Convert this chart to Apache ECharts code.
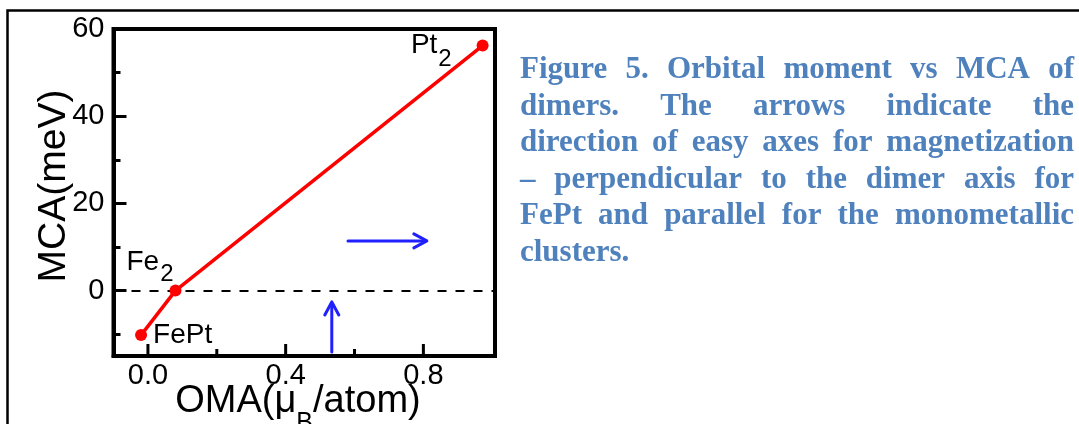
<!DOCTYPE html>
<html>
<head>
<meta charset="utf-8">
<script src="https://cdn.jsdelivr.net/npm/echarts@6/dist/echarts.min.js"></script>
<style>
html,body{margin:0;padding:0;background:#fff;}
#c{width:1079px;height:424px;}
</style>
</head>
<body>
<div id="c"></div>
<script>
// ---- data ----
const pointNames = ['FePt', 'Fe2', 'Pt2'];
const omaValues = [-0.02, 0.08, 0.972];
const mcaValues = [-10.2, 0, 56.2];
const xTickLabels = [0, 0.4, 0.8];
const xMinorTicks = [0.2, 0.6];
const yTickLabels = [0, 20, 40, 60];
const yMinorTicks = [-10, 10, 30, 50];
const zeroLineValue = 0;
// easy-axis arrows: [xStart, yStart, xEnd, yEnd]
const arrowHorizontal = [0.581, 11.4, 0.810, 11.4];
const arrowVertical = [0.534, -14.1, 0.534, -2.6];
const xTitle = ['OMA(μ', 'B', '/atom)'];
const yTitle = 'MCA(meV)';
const captionLines = [
  'Figure 5. Orbital moment vs MCA of',
  'dimers. The arrows indicate the',
  'direction of easy axes for magnetization',
  '– perpendicular to the dimer axis for',
  'FePt and parallel for the monometallic',
  'clusters.'
];

// ---- layout / style ----
const W = 1079, H = 424;
const gridL = 113.5, gridR = 495, gridT = 29, gridB = 356;
const xMin = -0.1, xMax = 1.008, yMin = -15, yMax = 60;
const sansName = '"Liberation Sans", Arial, sans-serif';
// label placement relative to marker: [dx of left edge, dy of main baseline, dy of subscript baseline]
const labelPlacement = [[12, 10.3, 0], [-49, -19, -8], [-71.7, 9.5, 22.5]];
const mainFs = 28, subFs = 24;
const majorLen = 12, minorLen = 7;

const chart = echarts.init(document.getElementById('c'), null, {renderer: 'canvas', width: W, height: H});
const ctx = document.createElement('canvas').getContext('2d');

function renderArrow(params, api) {
  const p1 = api.coord([api.value(0), api.value(1)]);
  const p2 = api.coord([api.value(2), api.value(3)]);
  const dx = p2[0] - p1[0], dy = p2[1] - p1[1];
  const len = Math.sqrt(dx * dx + dy * dy);
  const ux = dx / len, uy = dy / len;
  const hl = 13, hw = 7;
  const b = [p2[0] - ux * hl, p2[1] - uy * hl];
  const a1 = [b[0] - uy * hw, b[1] + ux * hw];
  const a2 = [b[0] + uy * hw, b[1] - ux * hw];
  const st = {stroke: '#2020ff', lineWidth: 3, fill: null, lineCap: 'round', lineJoin: 'round'};
  return {type: 'group', children: [
    {type: 'polyline', shape: {points: [p1, [p2[0] - ux * 1.5, p2[1] - uy * 1.5]]}, style: st},
    {type: 'polyline', shape: {points: [a1, p2, a2]}, style: st}
  ]};
}

const tickStyle = {color: '#000', width: 3};
const mainLine = {show: true, onZero: false, lineStyle: {color: '#000', width: 4}};
const hiddenLine = {show: false, onZero: false};

const option = {
  animation: false,
  backgroundColor: '#fff',
  grid: {left: gridL, right: W - gridR, top: gridT, bottom: H - gridB, show: true,
         borderColor: '#000', borderWidth: 4, backgroundColor: 'transparent'},
  xAxis: [{
    type: 'value', min: xMin, max: xMax, position: 'bottom',
    splitLine: {show: false}, axisLine: mainLine, axisTick: {show: false},
    axisLabel: {customValues: xTickLabels, formatter: v => v.toFixed(1), fontSize: 29,
                fontFamily: sansName, color: '#000', margin: 5}
  }],
  yAxis: [{
    type: 'value', min: yMin, max: yMax, position: 'left',
    splitLine: {show: false}, axisLine: mainLine,
    axisTick: {show: true, inside: true, length: majorLen + 1, customValues: yTickLabels, lineStyle: tickStyle},
    axisLabel: {customValues: yTickLabels, fontSize: 29, fontFamily: sansName, color: '#000', margin: 9}
  }, {
    type: 'value', min: yMin, max: yMax, position: 'left',
    splitLine: {show: false}, axisLine: hiddenLine,
    axisTick: {show: true, inside: true, length: minorLen, customValues: yMinorTicks, lineStyle: tickStyle},
    axisLabel: {show: false}
  }],
  series: [
    {type: 'custom', xAxisIndex: 0, yAxisIndex: 0, renderItem: renderArrow,
     data: [arrowHorizontal, arrowVertical], silent: true, z: 3},
    {
      type: 'line', xAxisIndex: 0, yAxisIndex: 0,
      data: pointNames.map((n, i) => ({name: n, value: [omaValues[i], mcaValues[i]]})),
      symbol: 'circle', symbolSize: 12, showAllSymbol: true,
      itemStyle: {color: '#ff0000'}, lineStyle: {color: '#ff0000', width: 3.5}, z: 5,
      markLine: {silent: true, symbol: 'none', label: {show: false},
                 lineStyle: {color: '#000', type: [9, 9], width: 2.2},
                 data: [{yAxis: zeroLineValue}], z: 2}
    }
  ]
};
chart.setOption(option);

// ---- overlays ----
function txt(x, baseline, s, fs) {
  // 'middle' anchor sits ~0.35em above the alphabetic baseline
  return {type: 'text', x: x, y: baseline - 0.35 * fs,
          style: {text: s, font: fs + 'px ' + sansName, fill: '#000', textAlign: 'left', textVerticalAlign: 'middle'}};
}
const overlay = [];
overlay.push({type: 'polyline', shape: {points: [[7.5, H], [7.5, 10.5], [W, 10.5]]},
              style: {stroke: '#000', lineWidth: 2.5, fill: null}});
// x-axis ticks, inside from the bottom edge, placed through the x scale
[[xTickLabels, majorLen], [xMinorTicks, minorLen]].forEach(([vals, len]) => {
  vals.forEach(v => {
    const p = chart.convertToPixel({xAxisIndex: 0, yAxisIndex: 0}, [v, yMin]);
    overlay.push({type: 'line', z: 50, shape: {x1: p[0], y1: p[1], x2: p[0], y2: p[1] - len},
                  style: {stroke: '#000', lineWidth: 3}});
  });
});
// y title
overlay.push({type: 'text', x: 54, y: 186, rotation: Math.PI / 2,
              style: {text: yTitle, font: '39px ' + sansName, fill: '#000', textAlign: 'center', textVerticalAlign: 'middle'}});
// x title with subscript
{
  const f1 = 38, f2 = 25;
  ctx.font = f1 + 'px ' + sansName;
  const w0 = ctx.measureText(xTitle[0]).width, w2 = ctx.measureText(xTitle[2]).width;
  ctx.font = f2 + 'px ' + sansName;
  const w1 = ctx.measureText(xTitle[1]).width;
  const x = 298 - (w0 + w1 + w2) / 2;
  overlay.push(txt(x, 415, xTitle[0], f1));
  overlay.push(txt(x + w0, 432, xTitle[1], f2));
  overlay.push(txt(x + w0 + w1, 415, xTitle[2], f1));
}
// point labels (with subscripts)
pointNames.forEach((n, i) => {
  const p = chart.convertToPixel({xAxisIndex: 0, yAxisIndex: 0}, [omaValues[i], mcaValues[i]]);
  const m = n.match(/^(.*?)(\d+)$/);
  const pl = labelPlacement[i];
  const main = m ? m[1] : n;
  const x0 = p[0] + pl[0];
  overlay.push(txt(x0, p[1] + pl[1], main, mainFs));
  if (m) {
    ctx.font = mainFs + 'px ' + sansName;
    overlay.push(txt(x0 + ctx.measureText(main).width + 1, p[1] + pl[2], m[2], subFs));
  }
});
// caption (justified)
const capFont = 'bold 31px "Liberation Serif", "Times New Roman", serif';
const capLeft = 520, capRight = 1074, capBase0 = 81, capStep = 36.5;
ctx.font = capFont;
captionLines.forEach((line, li) => {
  const words = line.split(' ');
  const widths = words.map(w => ctx.measureText(w).width);
  const total = widths.reduce((a, b) => a + b, 0);
  const last = li === captionLines.length - 1;
  const gap = last ? ctx.measureText(' ').width : (capRight - capLeft - total) / (words.length - 1);
  let x = capLeft;
  words.forEach((w, wi) => {
    overlay.push({type: 'text', x: x, y: capBase0 + li * capStep - 0.35 * 31,
                  style: {text: w, font: capFont, fill: '#4f81bd', textAlign: 'left', textVerticalAlign: 'middle'}});
    x += widths[wi] + gap;
  });
});
chart.setOption({graphic: overlay});
</script>
</body>
</html>
